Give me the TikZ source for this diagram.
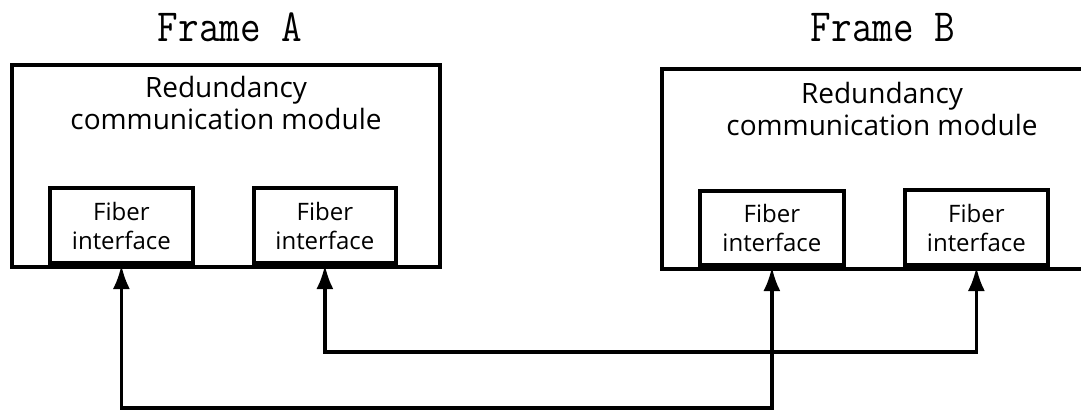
\documentclass[tikz,border=0pt]{standalone}
\usepackage{fontspec}
\usepackage{graphicx}
\setsansfont{Open Sans}
\usetikzlibrary{arrows.meta}
\tikzset{
  frame/.style={draw, line width=3.8pt, fill=white, inner sep=0pt, anchor=north west},
  fiber/.style={draw, line width=3.8pt, fill=white, inner sep=0pt, anchor=south west,
    align=center, font=\sffamily\fontsize{24}{29}\selectfont},
  modtext/.style={align=center, inner sep=0pt, font=\sffamily\fontsize{28}{32}\selectfont},
  title/.style={inner sep=0pt, anchor=base, font=\ttfamily\fontsize{40}{40}\selectfont},
  conn/.style={line width=3.6pt, {Latex[length=24pt,width=17pt]}-{Latex[length=24pt,width=17pt]}}
}
\begin{document}
\begin{tikzpicture}[x=1pt,y=-1pt]
\clip (0,0) rectangle (1081,415);
\fill[white] (0,0) rectangle (1081,415);
% titles
\node[title] (TA) at (230,41) {\scalebox{1}[1.15]{Frame A}};
\node[title] (TB) at (883,41) {\scalebox{1}[1.15]{Frame B}};
% frames
\node[frame, minimum width=428pt, minimum height=202pt] (FA) at (10,63) {};
\node[frame, minimum width=440pt, minimum height=200pt] (FB) at (660,67) {};
\node[modtext] (MA) at (226,103) {Redundancy\\communication module};
\node[modtext] (MB) at (882,109) {Redundancy\\communication module};
% fiber interfaces
\node[fiber, minimum width=143pt, minimum height=75pt] (A1) at (48,265) {Fiber\\interface};
\node[fiber, minimum width=142pt, minimum height=75pt] (A2) at (252,265) {Fiber\\interface};
\node[fiber, minimum width=144pt, minimum height=74pt] (B1) at (698,267) {Fiber\\interface};
\node[fiber, minimum width=143pt, minimum height=75pt] (B2) at (903,267) {Fiber\\interface};
% connectors
\draw[conn] (A1.south) -- ++(0,143) -| (B1.south);
\draw[conn] (A2.south) -- ++(0,87) -| (B2.south);
\end{tikzpicture}
\end{document}
